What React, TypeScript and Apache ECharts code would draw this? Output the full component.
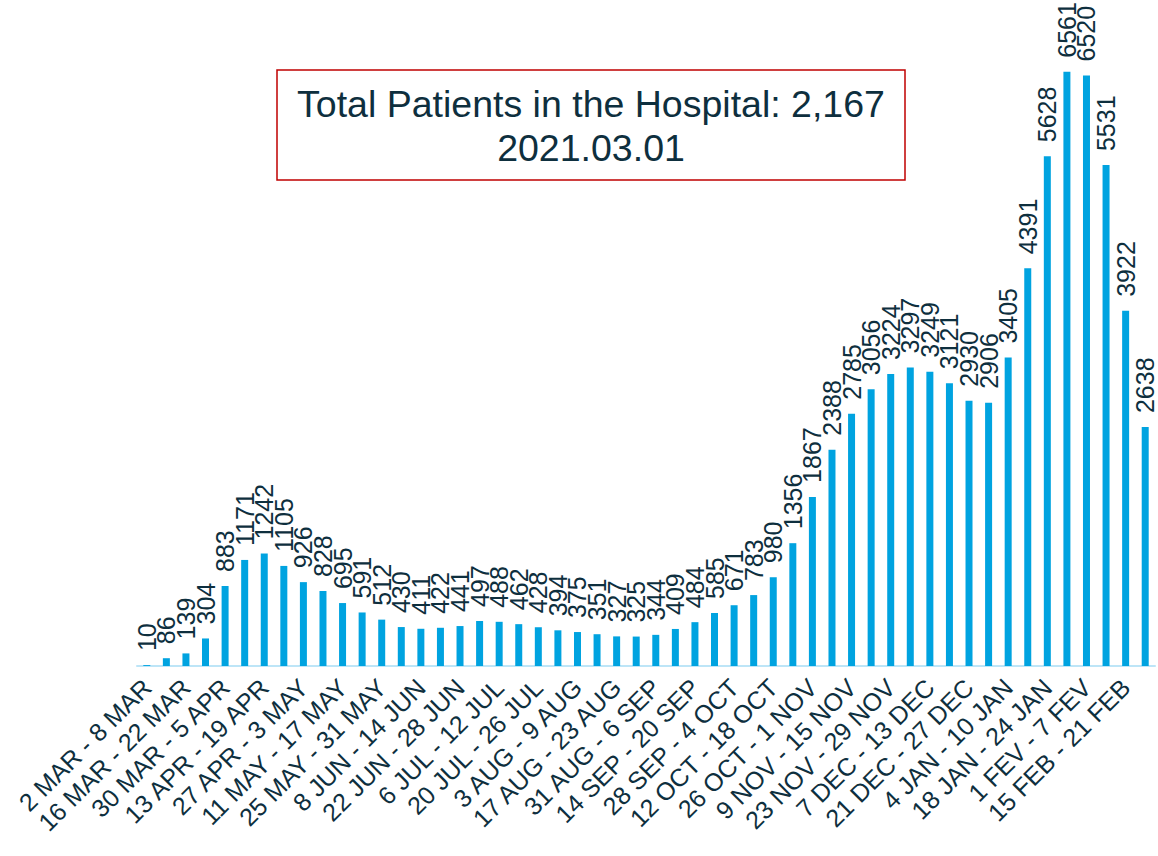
import React, { useEffect, useRef } from "react";
import * as echarts from "echarts";

const weeks: string[] = [
  "2 MAR - 8 MAR", "9 MAR - 15 MAR", "16 MAR - 22 MAR", "23 MAR - 29 MAR",
  "30 MAR - 5 APR", "6 APR - 12 APR", "13 APR - 19 APR", "20 APR - 26 APR",
  "27 APR - 3 MAY", "4 MAY - 10 MAY", "11 MAY - 17 MAY", "18 MAY - 24 MAY",
  "25 MAY - 31 MAY", "1 JUN - 7 JUN", "8 JUN - 14 JUN", "15 JUN - 21 JUN",
  "22 JUN - 28 JUN", "29 JUN - 5 JUL", "6 JUL - 12 JUL", "13 JUL - 19 JUL",
  "20 JUL - 26 JUL", "27 JUL - 2 AUG", "3 AUG - 9 AUG", "10 AUG - 16 AUG",
  "17 AUG - 23 AUG", "24 AUG - 30 AUG", "31 AUG - 6 SEP", "7 SEP - 13 SEP",
  "14 SEP - 20 SEP", "21 SEP - 27 SEP", "28 SEP - 4 OCT", "5 OCT - 11 OCT",
  "12 OCT - 18 OCT", "19 OCT - 25 OCT", "26 OCT - 1 NOV", "2 NOV - 8 NOV",
  "9 NOV - 15 NOV", "16 NOV - 22 NOV", "23 NOV - 29 NOV", "30 NOV - 6 DEC",
  "7 DEC - 13 DEC", "14 DEC - 20 DEC", "21 DEC - 27 DEC", "28 DEC - 3 JAN",
  "4 JAN - 10 JAN", "11 JAN - 17 JAN", "18 JAN - 24 JAN", "25 JAN - 31 JAN",
  "1 FEV - 7 FEV", "8 FEV - 14 FEV", "15 FEB - 21 FEB", "22 FEB - 28 FEB",
];

const patients: number[] = [
  10, 86, 139, 304, 883, 1171, 1242, 1105, 926, 828, 695, 591, 512, 430, 411,
  422, 441, 497, 488, 462, 428, 394, 375, 351, 327, 325, 344, 409, 484, 585,
  671, 783, 980, 1356, 1867, 2388, 2785, 3056, 3224, 3297, 3249, 3121, 2930,
  2906, 3405, 4391, 5628, 6561, 6520, 5531, 3922, 2638,
];

const titleLines: string[] = [
  "Total Patients in the Hospital: 2,167",
  "2021.03.01",
];

const TEXT_COLOR = "#0e2f3e";
const FONT = "'Liberation Sans', Arial, sans-serif";

export default function App() {
  const ref = useRef<HTMLDivElement>(null);

  useEffect(() => {
    if (!ref.current) return;
    const chart = echarts.init(ref.current, undefined, { renderer: "svg" });
    chart.setOption({
      animation: false,
      backgroundColor: "#ffffff",
      textStyle: { fontFamily: FONT },
      grid: { left: 137, right: 3, top: 32, bottom: 190, containLabel: false },
      xAxis: {
        type: "category",
        data: weeks,
        axisLine: { show: true, lineStyle: { color: "#bde5f7", width: 2 } },
        axisTick: { show: false },
        axisLabel: {
          interval: 1,
          rotate: 45,
          margin: 17,
          color: TEXT_COLOR,
          fontSize: 25,
          fontFamily: FONT,
        },
      },
      yAxis: {
        type: "value",
        min: 0,
        max: 7000,
        show: false,
        splitLine: { show: false },
      },
      series: [
        {
          type: "bar",
          data: patients,
          barWidth: 7,
          itemStyle: { color: "#00a3e0" },
          label: {
            show: true,
            position: "top",
            rotate: 90,
            align: "left",
            verticalAlign: "middle",
            distance: 14,
            color: TEXT_COLOR,
            fontSize: 25,
            fontFamily: FONT,
          },
        },
      ],
      graphic: [
        {
          type: "rect",
          shape: { x: 277, y: 70, width: 628, height: 110 },
          style: { fill: "#ffffff", stroke: "#c00000", lineWidth: 1.5 },
        },
        {
          type: "text",
          x: 591,
          y: 104,
          style: {
            text: titleLines[0],
            fill: TEXT_COLOR,
            font: `37.5px ${FONT}`,
            textAlign: "center",
            textVerticalAlign: "middle",
          },
        },
        {
          type: "text",
          x: 591,
          y: 148,
          style: {
            text: titleLines[1],
            fill: TEXT_COLOR,
            font: `37.5px ${FONT}`,
            textAlign: "center",
            textVerticalAlign: "middle",
          },
        },
      ],
    });
    return () => chart.dispose();
  }, []);

  return (
    <div
      ref={ref}
      style={{ position: "fixed", left: 0, top: 0, width: 1158, height: 856 }}
    />
  );
}
